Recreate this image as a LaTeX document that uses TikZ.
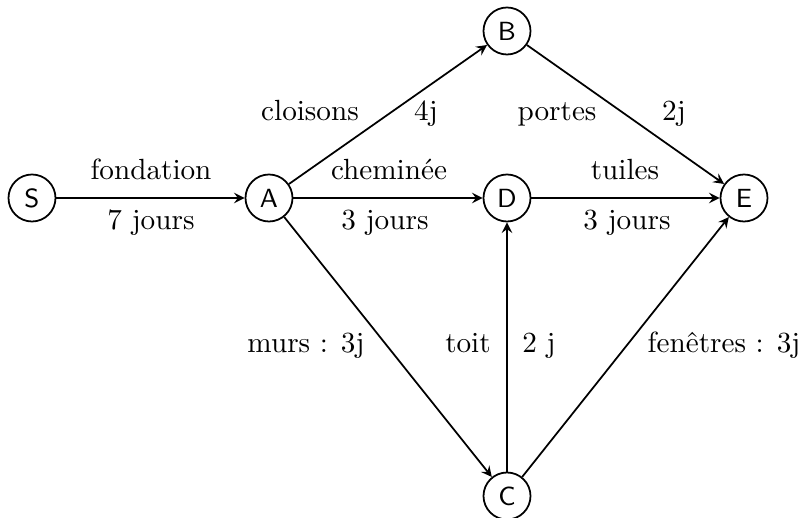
\documentclass[tikz,border=0pt]{standalone}
\usetikzlibrary{arrows}
\begin{document}
\begin{tikzpicture}[x=0.3425pt,y=-0.3425pt,
  etape/.style={circle,draw,line width=0.6pt,minimum size=16.1pt,inner sep=0pt,font=\sffamily\small},
  tache/.style={-stealth,line width=0.6pt},
  lbl/.style={inner sep=0pt,anchor=base}]
\useasboundingbox (0,0) rectangle (804,518);
% events
\node[etape] (S) at (32,198) {S};
\node[etape] (A) at (269,198) {A};
\node[etape] (B) at (507,31) {B};
\node[etape] (D) at (507,198) {D};
\node[etape] (E) at (744,198) {E};
\node[etape] (C) at (507,496) {C};
% tasks
\draw[tache] (S) -- (A);
\draw[tache] (A) -- (B);
\draw[tache] (A) -- (D);
\draw[tache] (A) -- (C);
\draw[tache] (B) -- (E);
\draw[tache] (D) -- (E);
\draw[tache] (C) -- (D);
\draw[tache] (C) -- (E);
% durations
\node[lbl] (l1) at (151,180) {fondation};
\node[lbl] (l2) at (151,230) {7 jours};
\node[lbl] (l3) at (310,121) {cloisons};
\node[lbl] (l4) at (426,121) {4j};
\node[lbl] (l5) at (557,121) {portes};
\node[lbl] (l6) at (674,121) {2j};
\node[lbl] (l7) at (389,180) {chemin\'ee};
\node[lbl] (l8) at (385,230) {3 jours};
\node[lbl] (l9) at (625,180) {tuiles};
\node[lbl] (l10) at (627,230) {3 jours};
\node[lbl] (l11) at (306,353) {murs : 3j};
\node[lbl] (l12) at (468,353) {toit};
\node[lbl] (l13) at (539,353) {2 j};
\node[lbl] (l14) at (724,353) {fen\^etres : 3j};
\end{tikzpicture}
\end{document}
